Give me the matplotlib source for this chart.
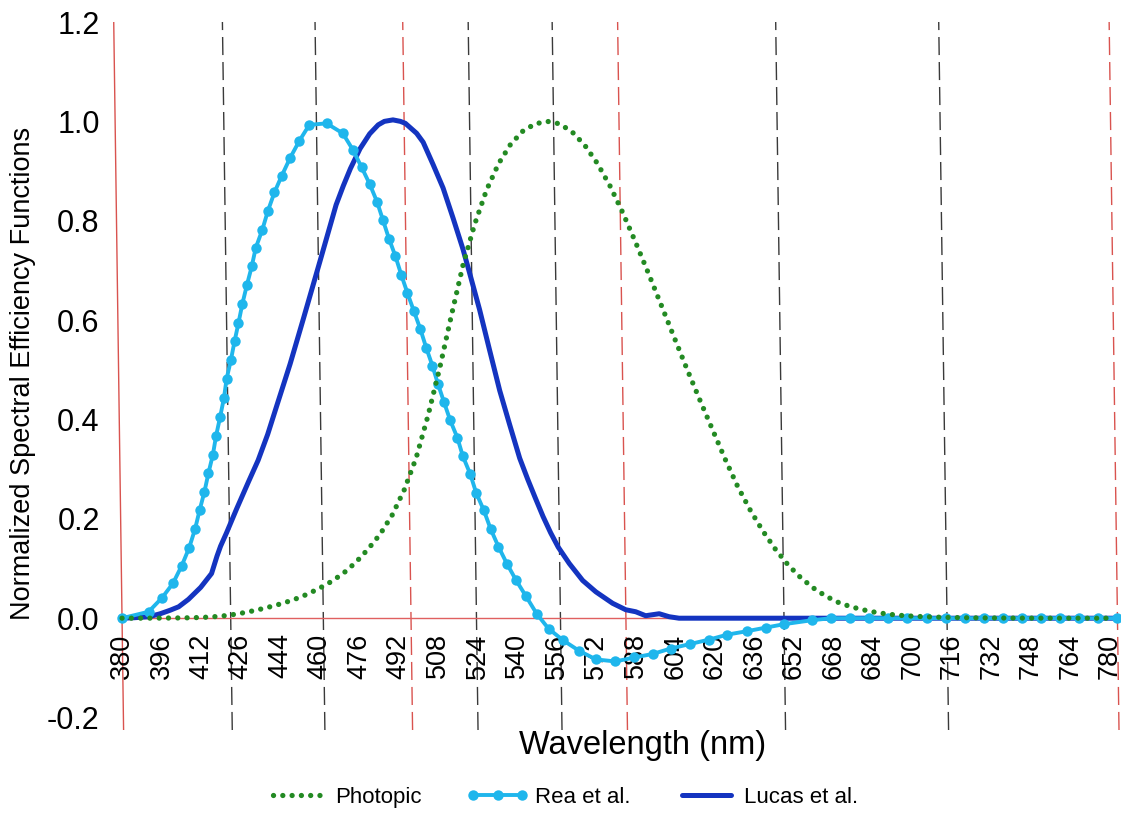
import matplotlib
matplotlib.use('Agg')
import matplotlib.pyplot as plt
import matplotlib.transforms as mtransforms
import numpy as np

plt.rcParams['font.family'] = ['Liberation Sans', 'DejaVu Sans']
plt.rcParams['axes.unicode_minus'] = False

# ---------------- data ----------------
photopic_wl = [380, 385, 390, 395, 400, 405, 410, 415, 420, 425, 430, 435, 440, 445, 450, 455,
               460, 465, 470, 475, 480, 485, 490, 495, 500, 505, 510, 515, 520, 525, 530, 535,
               540, 545, 550, 555, 560, 565, 570, 575, 580, 585, 590, 595, 600, 605, 610, 615,
               620, 625, 630, 635, 640, 645, 650, 655, 660, 665, 670, 675, 680, 685, 690, 695,
               700, 705, 710, 715, 720, 725, 730, 735, 740, 745, 750, 755, 760, 765, 770, 775, 780]
photopic_v = [0.000039, 0.000064, 0.00012, 0.000217, 0.000396, 0.00064, 0.00121, 0.00218, 0.004,
              0.0073, 0.0116, 0.01684, 0.023, 0.0298, 0.038, 0.048, 0.06, 0.0739, 0.09098, 0.1126,
              0.13902, 0.1693, 0.20802, 0.2586, 0.323, 0.4073, 0.503, 0.6082, 0.71, 0.7932, 0.862,
              0.91485, 0.954, 0.9803, 0.99495, 1.0, 0.995, 0.9786, 0.952, 0.9154, 0.87, 0.8163,
              0.757, 0.6949, 0.631, 0.5668, 0.503, 0.4412, 0.381, 0.321, 0.265, 0.217, 0.175,
              0.1382, 0.107, 0.0816, 0.061, 0.04458, 0.032, 0.0232, 0.017, 0.01192, 0.00821,
              0.005723, 0.004102, 0.002929, 0.002091, 0.001484, 0.001047, 0.00074, 0.00052,
              0.000361, 0.000249, 0.000172, 0.00012, 0.0000848, 0.00006, 0.0000424, 0.00003,
              0.0000212, 0.0000149]

rea_wl = [380.0, 390.8, 396.3, 400.8, 404.5, 407.6, 410.1, 412.0, 414.1, 415.8, 417.7, 419.1,
          420.8, 422.5, 423.7, 425.5, 427.1, 428.8, 430.5, 432.4, 434.5, 436.2, 439.0, 441.3,
          444.1, 447.1, 450.6, 454.5, 458.6, 465.6, 472.1, 476.2, 479.5, 482.7, 485.6, 487.9,
          490.2, 492.7, 495.0, 497.4, 499.9, 502.4, 504.7, 507.1, 509.2, 511.5, 514.0, 516.8,
          518.9, 521.8, 524.1, 527.1, 529.7, 532.8, 536.1, 539.8, 543.7, 547.9, 552.6, 558.3,
          565.0, 571.7, 579.5, 587.2, 594.6, 602.0, 609.8, 617.6, 625.0, 633.1, 640.5, 648.0,
          659.4, 667.1, 674.8, 682.5, 690.2, 698.0, 705.7, 713.4, 721.1, 728.8, 736.5, 744.2,
          751.9, 759.6, 767.3, 775.0, 782.8]
rea_v = [0.0, 0.013, 0.041, 0.070, 0.106, 0.142, 0.180, 0.217, 0.255, 0.292, 0.329, 0.367,
         0.404, 0.443, 0.482, 0.519, 0.557, 0.594, 0.633, 0.670, 0.708, 0.745, 0.782, 0.819,
         0.857, 0.890, 0.926, 0.961, 0.993, 0.996, 0.976, 0.942, 0.908, 0.874, 0.838, 0.801,
         0.764, 0.729, 0.691, 0.654, 0.618, 0.582, 0.544, 0.508, 0.472, 0.436, 0.398, 0.363,
         0.326, 0.290, 0.252, 0.217, 0.180, 0.144, 0.110, 0.076, 0.044, 0.009, -0.021, -0.044,
         -0.066, -0.083, -0.087, -0.079, -0.072, -0.061, -0.052, -0.043, -0.033, -0.026, -0.019,
         -0.012, -0.004, 0.0, 0.0, 0.0, 0.0, 0.0, 0.0, 0.0, 0.0, 0.0, 0.0, 0.0, 0.0, 0.0, 0.0,
         0.0, 0.0]

lucas_wl = [380, 385, 391, 395.5, 399.5, 403, 407, 412, 416.5, 418.8, 420.3, 422.8, 427, 432,
            436, 440, 444, 449.5, 455, 462, 469, 472, 475, 479, 483, 486.5, 489, 492.5, 495.5,
            497.5, 499.3, 502, 504.6, 508.5, 512.4, 516.3, 520.1, 522.6, 526.5, 530.3, 534.2,
            538, 541.9, 545, 548, 551, 554, 557, 561.4, 566.7, 572, 578.7, 584, 588, 592, 597.5,
            601.5, 605.5, 620, 650, 700, 750, 784]
lucas_v = [0, 0.001, 0.003, 0.009, 0.016, 0.023, 0.038, 0.062, 0.090, 0.125, 0.145, 0.172,
           0.220, 0.275, 0.318, 0.370, 0.430, 0.512, 0.601, 0.716, 0.832, 0.870, 0.905, 0.945,
           0.975, 0.993, 1.000, 1.003, 1.000, 0.996, 0.988, 0.976, 0.958, 0.913, 0.866, 0.805,
           0.743, 0.696, 0.621, 0.540, 0.458, 0.390, 0.322, 0.280, 0.242, 0.205, 0.172, 0.143,
           0.110, 0.076, 0.053, 0.030, 0.017, 0.013, 0.005, 0.009, 0.003, 0, 0, 0, 0, 0, 0]

black_lines = [424, 461.5, 523.5, 557.5, 648, 714]
red_lines = [497, 584, 783]
left_line = [380]

xtick_pos = [380 + 16 * i for i in range(26)]
xtick_labels = ['380', '396', '412', '426', '444', '460', '476', '492', '508', '524', '540',
                '556', '572', '588', '604', '620', '636', '652', '668', '684', '700', '716',
                '732', '748', '764', '780']
ytick_pos = [-0.2, 0.0, 0.2, 0.4, 0.6, 0.8, 1.0, 1.2]
ytick_labels = ['-0.2', '0.0', '0.2', '0.4', '0.6', '0.8', '1.0', '1.2']

# ---------------- figure ----------------
fig = plt.figure(figsize=(11.26, 8.15), dpi=100)
ax = fig.add_axes([0.0996, 0.1043, 0.8950, 0.8687])
ax.set_xlim(376, 784)
ax.set_ylim(-0.225, 1.2)

# slight skew of the original picture (vertical lines lean left toward the top)
skew_c = 2.8
skew = mtransforms.Affine2D(np.array([[1.0, -skew_c, 0.0], [0.0, 1.0, 0.0], [0.0, 0.0, 1.0]]))
tr = skew + ax.transData

ylo, yhi = -0.225, 1.2
for xv in black_lines:
    ax.plot([xv, xv], [ylo, yhi], color='#3a3a3a', lw=1.0, dashes=(13, 5),
            transform=tr, zorder=1, clip_on=False)
for xv in red_lines:
    ax.plot([xv, xv], [ylo, yhi], color='#d9534f', lw=1.0, dashes=(13, 5),
            transform=tr, zorder=1, clip_on=False)
for xv in left_line:
    ax.plot([xv, xv], [ylo, yhi], color='#d9534f', lw=1.0, solid_capstyle='butt',
            transform=tr, zorder=1, clip_on=False)
ax.hlines(0, 380, 784, color='#e06060', lw=1.0, zorder=1)

ax.plot(lucas_wl, lucas_v, color='#1434c0', lw=3.6, solid_capstyle='round',
        solid_joinstyle='round', transform=tr, zorder=3, label='Lucas et al.')
ax.plot(rea_wl, rea_v, color='#1fb6ec', lw=2.8, marker='o', markersize=7.5,
        markeredgewidth=0, transform=tr, zorder=4, label='Rea et al.')
ax.plot(photopic_wl, photopic_v, color='#238a23', lw=3.8, linestyle=(0, (0.01, 1.75)),
        dash_capstyle='round', transform=tr, zorder=5, label='Photopic')

for s in ax.spines.values():
    s.set_visible(False)
ax.spines['bottom'].set_position(('data', 0))

ax.set_xticks(xtick_pos, xtick_labels, rotation=90, fontsize=19.5)
ax.set_yticks(ytick_pos, ytick_labels, fontsize=22)
ax.tick_params(axis='x', length=0, pad=11)
ax.tick_params(axis='y', length=0, pad=9)

ax.set_xlabel('Wavelength (nm)', fontsize=23.5)
ax.xaxis.set_label_coords(0.526, 0.0)
ax.set_ylabel('Normalized Spectral Efficiency Functions', fontsize=19.5)
ax.yaxis.set_label_coords(-0.076, 0.503)

h, l = ax.get_legend_handles_labels()
order = [2, 1, 0]
fig.legend([h[i] for i in order], [l[i] for i in order], loc='center',
           bbox_to_anchor=(0.4996, 0.022), ncol=3, frameon=False, fontsize=16,
           handlelength=2.8, handletextpad=0.3, columnspacing=2.0, numpoints=3)

fig.savefig('out.png', dpi=100)
